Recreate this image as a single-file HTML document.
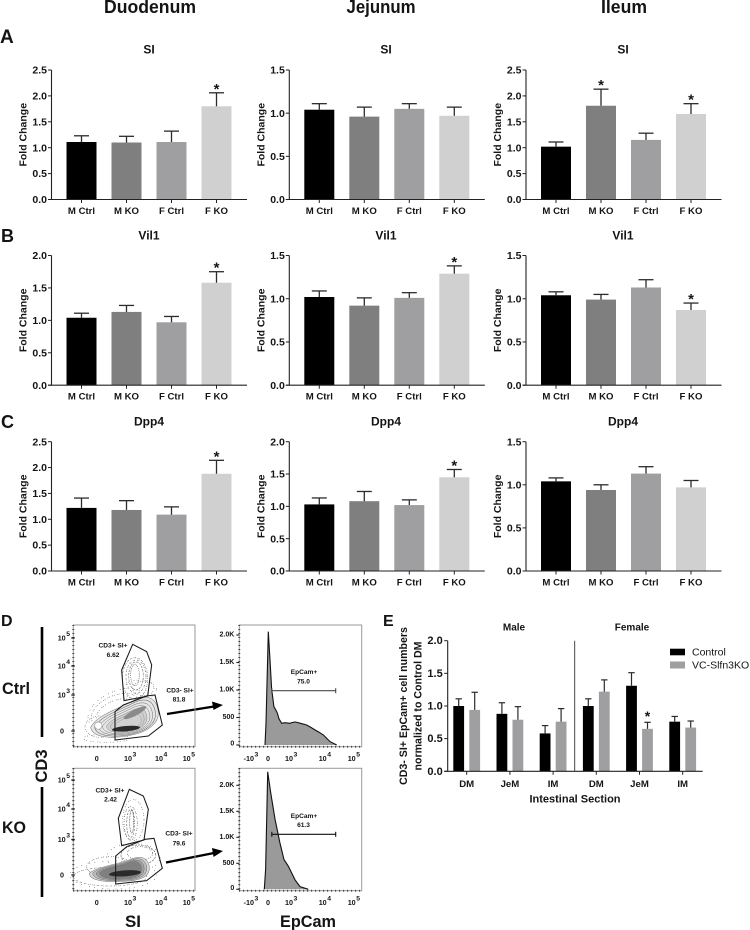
<!DOCTYPE html>
<html lang="en">
<head>
<meta charset="utf-8">
<title>Slfn3 KO intestinal marker expression</title>
<style>
html,body{margin:0;padding:0;background:#fff;}
svg{display:block;filter:blur(0.35px);}
text{font-family:"Liberation Sans",sans-serif;fill:#141414;}
.b{font-weight:bold;}
</style>
</head>
<body>
<svg id="fig" xmlns="http://www.w3.org/2000/svg" width="750" height="930" viewBox="0 0 750 930">
<rect width="750" height="930" fill="#fff"/>
<defs>
  <path id="ctrlBlob" d="M272,352 C290,318 340,302 400,272 C440,252 468,262 474,300 C482,340 440,366 400,374 C350,386 278,388 272,352Z"/>
  <path id="koBlob" d="M268,310 C290,290 350,285 400,265 C430,255 448,270 448,295 C448,325 410,332 370,334 C320,338 268,332 268,310Z"/>
</defs>

<text class="b" x="150" y="13" font-size="18" text-anchor="middle" textLength="92" lengthAdjust="spacingAndGlyphs">Duodenum</text>
<text class="b" x="381" y="13" font-size="18" text-anchor="middle" textLength="69" lengthAdjust="spacingAndGlyphs">Jejunum</text>
<text class="b" x="624" y="13" font-size="18" text-anchor="middle" textLength="46" lengthAdjust="spacingAndGlyphs">Ileum</text>

<text class="b" x="0" y="43" font-size="19">A</text>
<text class="b" x="1" y="242" font-size="18">B</text>
<text class="b" x="1" y="428" font-size="18">C</text>
<text class="b" x="1" y="626" font-size="16">D</text>
<text class="b" x="383" y="626" font-size="16">E</text>

<g>
  <text class="b" x="2" y="694" font-size="17" textLength="28" lengthAdjust="spacingAndGlyphs">Ctrl</text>
  <text class="b" x="2" y="833" font-size="17" textLength="24" lengthAdjust="spacingAndGlyphs">KO</text>
  <text class="b" transform="translate(47,766) rotate(-90)" font-size="17" text-anchor="middle" textLength="33" lengthAdjust="spacingAndGlyphs">CD3</text>
  <line x1="42" x2="42" y1="627" y2="737" stroke="#000" stroke-width="2.6"/>
  <line x1="42" x2="42" y1="787" y2="897" stroke="#000" stroke-width="2.6"/>
</g>

<!-- Ctrl contour plot -->
<g transform="translate(0,610) scale(.33333)">
  <g fill="none" stroke="#777" stroke-width="2.4" stroke-linecap="round">
    <ellipse cx="345" cy="305" rx="60" ry="32" stroke-dasharray="0.5 7 0.5 11 0.5 5" transform="rotate(-25 345 305)"/>
    <ellipse cx="350" cy="295" rx="92" ry="50" stroke-dasharray="0.5 13 0.5 6 0.5 17" transform="rotate(-25 350 295)"/>
    <ellipse cx="345" cy="300" rx="76" ry="42" stroke-dasharray="0.5 9 0.5 5" transform="rotate(-25 345 300)"/>
    <ellipse cx="430" cy="235" rx="32" ry="22" stroke-dasharray="0.5 10 0.5 6"/>
    <ellipse cx="420" cy="240" rx="50" ry="30" stroke-dasharray="0.5 16 0.5 9"/>
    <ellipse cx="405" cy="205" rx="38" ry="62" stroke-dasharray="0.5 7 0.5 4" stroke="#666"/>
    <ellipse cx="408" cy="200" rx="30" ry="50" stroke-dasharray="0.5 4 0.5 8" stroke="#5c5c5c"/>
    <ellipse cx="408" cy="198" rx="22" ry="42" stroke-dasharray="0.5 6 0.5 3" stroke="#5c5c5c"/>
    <ellipse cx="405" cy="195" rx="13" ry="32" stroke-dasharray="0.5 5" stroke="#5c5c5c"/>
    <ellipse cx="320" cy="385" rx="70" ry="12" stroke-dasharray="0.5 12 0.5 7"/>
    <ellipse cx="300" cy="350" rx="45" ry="32" stroke-dasharray="0.5 8 0.5 5"/>
  </g>
  <use href="#ctrlBlob" fill="#e6e6e6" stroke="#777" stroke-width="1.6"/>
  <g fill="none" stroke="#5f5f5f" stroke-width="1.7">
    <use href="#ctrlBlob" transform="translate(390 345) scale(.9) translate(-390 -345)"/>
    <use href="#ctrlBlob" transform="translate(390 345) scale(.8) translate(-390 -345)"/>
    <use href="#ctrlBlob" transform="translate(390 345) scale(.7) translate(-390 -345)"/>
    <use href="#ctrlBlob" transform="translate(390 345) scale(.6) translate(-390 -345)" fill="#d0d0d0"/>
    <use href="#ctrlBlob" transform="translate(390 345) scale(.5) translate(-390 -345)"/>
    <use href="#ctrlBlob" transform="translate(390 345) scale(.4) translate(-390 -345)"/>
  </g>
  <ellipse cx="405" cy="308" rx="38" ry="9" fill="#8a8a8a" transform="rotate(-28 405 308)"/>
  <ellipse cx="378" cy="356" rx="42" ry="8" fill="#2a2a2a" transform="rotate(-5 378 356)"/>
  <circle cx="295" cy="347" r="11" fill="#fff" stroke="#999" stroke-width="2"/>
  <polygon points="398,103 440,125 455,165 443,258 372,272 365,180" fill="none" stroke="#1a1a1a" stroke-width="3.2"/>
  <polygon points="345,305 370,285 440,258 465,255 487,345 445,378 345,390" fill="none" stroke="#1a1a1a" stroke-width="3.2"/>
</g>

<!-- KO contour plot -->
<g transform="translate(0,770) scale(.33333)">
  <g fill="none" stroke="#6e6e6e" stroke-width="2.4" stroke-linecap="round">
    <ellipse cx="400" cy="150" rx="32" ry="62" stroke-dasharray="0.5 11 0.5 6"/>
    <ellipse cx="392" cy="160" rx="20" ry="50" stroke-dasharray="0.5 5 0.5 9" stroke="#4c4c4c"/>
    <ellipse cx="392" cy="160" rx="12" ry="42" stroke-dasharray="0.5 7 0.5 3" stroke="#4c4c4c"/>
    <ellipse cx="395" cy="155" rx="6" ry="34" stroke-dasharray="0.5 4" stroke="#4c4c4c"/>
    <ellipse cx="415" cy="255" rx="52" ry="30" stroke-dasharray="0.5 6 0.5 3" stroke="#4c4c4c"/>
    <ellipse cx="420" cy="250" rx="38" ry="20" stroke-dasharray="0.5 5 0.5 8" stroke="#4c4c4c"/>
    <ellipse cx="400" cy="262" rx="80" ry="42" stroke-dasharray="0.5 10 0.5 17"/>
    <ellipse cx="330" cy="290" rx="70" ry="30" stroke-dasharray="0.5 9 0.5 5"/>
    <ellipse cx="330" cy="320" rx="110" ry="28" stroke-dasharray="0.5 8 0.5 4"/>
    <ellipse cx="340" cy="315" rx="130" ry="42" stroke-dasharray="0.5 15 0.5 24"/>
  </g>
  <use href="#koBlob" fill="#d8d8d8" stroke="#777" stroke-width="1.6"/>
  <g fill="none" stroke="#606060" stroke-width="1.6">
    <use href="#koBlob" transform="translate(370 305) scale(.9) translate(-370 -305)" fill="#bcbcbc"/>
    <use href="#koBlob" transform="translate(370 305) scale(.8) translate(-370 -305)" fill="#a0a0a0"/>
    <use href="#koBlob" transform="translate(370 305) scale(.7) translate(-370 -305)" fill="#808080"/>
  </g>
  <ellipse cx="375" cy="310" rx="48" ry="9" fill="#2b2b2b" transform="rotate(-4 375 310)"/>
  <polygon points="388,58 430,78 445,118 432,210 365,227 355,145" fill="none" stroke="#1a1a1a" stroke-width="3.2"/>
  <polygon points="347,258 380,230 435,208 462,205 487,295 440,332 347,342" fill="none" stroke="#1a1a1a" stroke-width="3.2"/>
</g>

<g font-size="6.6" text-anchor="middle" font-weight="bold">
  <text x="113" y="647.5">CD3+ SI+</text>
  <text x="113" y="657">6.62</text>
  <text x="180" y="692.5">CD3- SI+</text>
  <text x="179" y="701.5">81.8</text>
  <text x="110" y="792.5">CD3+ SI+</text>
  <text x="110.5" y="801.5">2.42</text>
  <text x="179" y="835.5">CD3- SI+</text>
  <text x="179" y="845.5">79.6</text>
  <text x="304" y="674">EpCam+</text>
  <text x="303.5" y="683.5">75.0</text>
  <text x="304" y="818">EpCam+</text>
  <text x="303.5" y="827">61.3</text>
</g>

<g>
  <line x1="167" y1="714" x2="214" y2="706.5" stroke="#000" stroke-width="2.4"/>
  <polygon points="223,705 212,701.5 213.5,710" fill="#000"/>
  <line x1="166" y1="862.5" x2="214" y2="853" stroke="#000" stroke-width="2.4"/>
  <polygon points="223,851 212,848 213.5,857" fill="#000"/>
</g>

<text class="b" x="133" y="927" font-size="17" text-anchor="middle" textLength="16" lengthAdjust="spacingAndGlyphs">SI</text>
<text class="b" x="308" y="927" font-size="17" text-anchor="middle" textLength="56" lengthAdjust="spacingAndGlyphs">EpCam</text>

<script>
// ---------- Bar chart data (panels A–C) ----------
const categories = ['M Ctrl', 'M KO', 'F Ctrl', 'F KO'];
const ticks15 = ['0.0', '0.5', '1.0', '1.5'];
const ticks20 = ['0.0', '0.5', '1.0', '1.5', '2.0'];
const ticks25 = ['0.0', '0.5', '1.0', '1.5', '2.0', '2.5'];

const siDuodenumMeans = [1.11, 1.10, 1.11, 1.80];
const siDuodenumUpper = [1.23, 1.22, 1.32, 2.06];
const siDuodenumSig = [0, 0, 0, 1];
const siJejunumMeans = [1.04, 0.96, 1.05, 0.97];
const siJejunumUpper = [1.11, 1.07, 1.11, 1.07];
const siJejunumSig = [0, 0, 0, 0];
const siIleumMeans = [1.02, 1.81, 1.15, 1.65];
const siIleumUpper = [1.11, 2.13, 1.28, 1.85];
const siIleumSig = [0, 1, 0, 1];

const vil1DuodenumMeans = [1.04, 1.13, 0.97, 1.58];
const vil1DuodenumUpper = [1.11, 1.23, 1.06, 1.75];
const vil1DuodenumSig = [0, 0, 0, 1];
const vil1JejunumMeans = [1.02, 0.92, 1.01, 1.29];
const vil1JejunumUpper = [1.09, 1.01, 1.07, 1.38];
const vil1JejunumSig = [0, 0, 0, 1];
const vil1IleumMeans = [1.04, 0.99, 1.13, 0.87];
const vil1IleumUpper = [1.08, 1.05, 1.22, 0.95];
const vil1IleumSig = [0, 0, 0, 1];

const dpp4DuodenumMeans = [1.22, 1.18, 1.09, 1.88];
const dpp4DuodenumUpper = [1.41, 1.36, 1.24, 2.14];
const dpp4DuodenumSig = [0, 0, 0, 1];
const dpp4JejunumMeans = [1.03, 1.08, 1.02, 1.45];
const dpp4JejunumUpper = [1.13, 1.23, 1.10, 1.57];
const dpp4JejunumSig = [0, 0, 0, 1];
const dpp4IleumMeans = [1.04, 0.94, 1.13, 0.97];
const dpp4IleumUpper = [1.08, 1.00, 1.21, 1.05];
const dpp4IleumSig = [0, 0, 0, 0];

// ---------- Panel E data ----------
const sectionCategories = ['DM', 'JeM', 'IM', 'DM', 'JeM', 'IM'];
const controlMeans = [1.00, 0.88, 0.58, 1.00, 1.31, 0.76];
const controlUpper = [1.11, 1.05, 0.70, 1.11, 1.51, 0.84];
const koMeans = [0.94, 0.79, 0.76, 1.22, 0.65, 0.67];
const koUpper = [1.21, 0.99, 0.96, 1.40, 0.75, 0.77];
const koSig = [0, 0, 0, 0, 1, 0];

// ---------- Histogram data (panel D), channel 0–1000 vs event count ----------
const histYTicks = ['0', '500', '1.0K', '1.5K', '2.0K'];
const histYTickValues = [0, 500, 1000, 1500, 2000];
const ctrlHistChannels = [210, 218, 237, 251, 264, 283, 297, 311, 325, 346, 373, 410, 455, 500, 550, 585, 619, 650, 687, 741, 796];
const ctrlHistCounts = [0, 394, 2060, 1545, 1030, 697, 640, 576, 470, 394, 406, 395, 420, 395, 364, 320, 273, 235, 182, 61, 0];
const koHistChannels = [204, 215, 232, 256, 292, 332, 365, 401, 455, 496, 564];
const koHistCounts = [0, 377, 2260, 1870, 1350, 896, 571, 442, 182, 52, 0];

// ---------- Style / layout (not data) ----------
const barFills = ['#000000', '#7f7f7f', '#9f9fa1', '#d0d0d0'];
const columnAxisX = [51.5, 289.3, 526];
const rowZeroY = [199.5, 385.2, 571];
const rowTopY = [70, 255.5, 441.7];
const rowTitleY = [53.5, 239.5, 425.5];
const columnTitleX = [149, 386, 623];

const panels = [
  { id: 'si-duodenum', title: 'SI', col: 0, row: 0, ticks: ticks25, means: siDuodenumMeans, upper: siDuodenumUpper, sig: siDuodenumSig },
  { id: 'si-jejunum', title: 'SI', col: 1, row: 0, ticks: ticks15, means: siJejunumMeans, upper: siJejunumUpper, sig: siJejunumSig },
  { id: 'si-ileum', title: 'SI', col: 2, row: 0, ticks: ticks25, means: siIleumMeans, upper: siIleumUpper, sig: siIleumSig },
  { id: 'vil1-duodenum', title: 'Vil1', col: 0, row: 1, ticks: ticks20, means: vil1DuodenumMeans, upper: vil1DuodenumUpper, sig: vil1DuodenumSig },
  { id: 'vil1-jejunum', title: 'Vil1', col: 1, row: 1, ticks: ticks15, means: vil1JejunumMeans, upper: vil1JejunumUpper, sig: vil1JejunumSig },
  { id: 'vil1-ileum', title: 'Vil1', col: 2, row: 1, ticks: ticks15, means: vil1IleumMeans, upper: vil1IleumUpper, sig: vil1IleumSig },
  { id: 'dpp4-duodenum', title: 'Dpp4', col: 0, row: 2, ticks: ticks25, means: dpp4DuodenumMeans, upper: dpp4DuodenumUpper, sig: dpp4DuodenumSig },
  { id: 'dpp4-jejunum', title: 'Dpp4', col: 1, row: 2, ticks: ticks20, means: dpp4JejunumMeans, upper: dpp4JejunumUpper, sig: dpp4JejunumSig },
  { id: 'dpp4-ileum', title: 'Dpp4', col: 2, row: 2, ticks: ticks15, means: dpp4IleumMeans, upper: dpp4IleumUpper, sig: dpp4IleumSig }
];

const svg = document.getElementById('fig');
const NS = 'http://www.w3.org/2000/svg';
function mk(tag, attrs, parent, txt) {
  const n = document.createElementNS(NS, tag);
  for (const k in attrs) n.setAttribute(k, attrs[k]);
  if (txt !== undefined) n.textContent = txt;
  parent.appendChild(n);
  return n;
}
const labelAttrs = (x, y, size, anchor) => ({ x: x, y: y, 'font-size': size, 'font-weight': 'bold', 'text-anchor': anchor, 'dominant-baseline': 'central' });

// ---------- Panels A–C ----------
panels.forEach(function (p) {
  const axisX = columnAxisX[p.col];
  const y0 = rowZeroY[p.row];
  const yTop = rowTopY[p.row];
  const yMax = parseFloat(p.ticks[p.ticks.length - 1]);
  const yScale = function (v) { return y0 - (v / yMax) * (y0 - yTop); };
  const xBand = function (i) { return axisX + 30 + 45 * i; };

  const g = mk('g', {}, svg);
  
  

  const title = mk('text', { x: columnTitleX[p.col], y: rowTitleY[p.row], 'font-size': 12, 'font-weight': 'bold', 'text-anchor': 'middle' }, g, p.title);
  
  

  p.means.forEach(function (v, i) {
    const cx = xBand(i);
    const bar = mk('rect', { x: cx - 15, y: yScale(v), width: 30, height: y0 - yScale(v), fill: barFills[i] }, g);
    
    

    const stem = mk('line', { x1: cx, x2: cx, y1: yScale(v), y2: yScale(p.upper[i]), stroke: '#2b2b2b', 'stroke-width': 1.3 }, g);
    
    

    const cap = mk('line', { x1: cx - 7.5, x2: cx + 7.5, y1: yScale(p.upper[i]), y2: yScale(p.upper[i]), stroke: '#2b2b2b', 'stroke-width': 1.3 }, g);
    
    

    if (p.sig[i]) {
      const star = mk('text', { x: cx, y: yScale(p.upper[i]) + 1, 'font-size': 15, 'font-weight': 'bold', 'text-anchor': 'middle' }, g, '*');
      
      
    }

    const tick = mk('line', { x1: cx, x2: cx, y1: y0, y2: y0 + 3.5, stroke: '#222', 'stroke-width': 1 }, g);
    
    

    const lab = mk('text', labelAttrs(cx, y0 + 12, 9.6, 'middle'), g, categories[i]);
    
    
  });

  const yAxis = mk('line', { x1: axisX, x2: axisX, y1: yTop, y2: y0, stroke: '#222', 'stroke-width': 1.1 }, g);
  
  
  const xAxis = mk('line', { x1: axisX - 3.5, x2: axisX + 195.5, y1: y0, y2: y0, stroke: '#222', 'stroke-width': 1.1 }, g);
  
  

  p.ticks.forEach(function (t) {
    const yy = yScale(parseFloat(t));
    const tk = mk('line', { x1: axisX - 3.5, x2: axisX, y1: yy, y2: yy, stroke: '#222', 'stroke-width': 1 }, g);
    
    
    const tl = mk('text', labelAttrs(axisX - 4.5, yy + 0.6, 10.5, 'end'), g, t);
    
    
  });

  const yTitle = mk('text', { transform: 'translate(' + (axisX - 25) + ',' + ((y0 + yTop) / 2) + ') rotate(-90)', 'font-size': 10.5, 'font-weight': 'bold', 'text-anchor': 'middle' }, g, 'Fold Change');
  
  
});

// ---------- Panel E ----------
(function () {
  const axisX = 447.7, y0 = 771.3, yTop = 640.7, yMax = 2;
  const eTicks = ['0.0', '0.5', '1.0', '1.5', '2.0'];
  const yScale = function (v) { return y0 - (v / yMax) * (y0 - yTop); };
  const xGroup = function (i) { return 466.7 + 43.2 * i; };
  const g = mk('g', {}, svg);
  
  

  function series(means, upper, dx, fill, nm) {
    means.forEach(function (v, i) {
      const cx = xGroup(i) + dx;
      const bar = mk('rect', { x: cx - 5.4, y: yScale(v), width: 10.8, height: y0 - yScale(v), fill: fill }, g);
      
      
      const stem = mk('line', { x1: cx, x2: cx, y1: yScale(v), y2: yScale(upper[i]), stroke: '#2b2b2b', 'stroke-width': 1.2 }, g);
      
      
      const cap = mk('line', { x1: cx - 3.2, x2: cx + 3.2, y1: yScale(upper[i]), y2: yScale(upper[i]), stroke: '#2b2b2b', 'stroke-width': 1.2 }, g);
      
      
    });
  }
  series(controlMeans, controlUpper, -8, '#000', 'control');
  series(koMeans, koUpper, 8, '#9f9fa1', 'vc-slfn3ko');

  koSig.forEach(function (s, i) {
    if (!s) return;
    const star = mk('text', { x: xGroup(i) + 8, y: yScale(koUpper[i]) - 1.5, 'font-size': 14, 'font-weight': 'bold', 'text-anchor': 'middle' }, g, '*');
    
    
  });

  sectionCategories.forEach(function (c, i) {
    const cx = xGroup(i);
    const tick = mk('line', { x1: cx, x2: cx, y1: y0, y2: y0 + 3.5, stroke: '#222', 'stroke-width': 1 }, g);
    
    
    const lab = mk('text', labelAttrs(cx, y0 + 13, 9.6, 'middle'), g, c);
    
    
  });

  const yAxis = mk('line', { x1: axisX, x2: axisX, y1: yTop, y2: y0, stroke: '#222', 'stroke-width': 1.1 }, g);
  
  
  const xAxis = mk('line', { x1: axisX - 3.5, x2: 702.7, y1: y0, y2: y0, stroke: '#222', 'stroke-width': 1.1 }, g);
  
  
  const sep = mk('line', { x1: 574.7, x2: 574.7, y1: yTop, y2: y0, stroke: '#333', 'stroke-width': 0.9 }, g);
  
  

  eTicks.forEach(function (t) {
    const yy = yScale(parseFloat(t));
    const tk = mk('line', { x1: axisX - 3.5, x2: axisX, y1: yy, y2: yy, stroke: '#222', 'stroke-width': 1 }, g);
    
    
    const tl = mk('text', labelAttrs(axisX - 5, yy + 0.5, 11, 'end'), g, t);
    
    
  });

  const male = mk('text', labelAttrs(514, 628, 10, 'middle'), g, 'Male');
  
  
  const female = mk('text', labelAttrs(632, 628, 10, 'middle'), g, 'Female');
  
  

  const xTitle = mk('text', labelAttrs(575, 799.5, 11, 'middle'), g, 'Intestinal Section');
  
  
  const yTitle1 = mk('text', { transform: 'translate(407,706) rotate(-90)', 'font-size': 10.6, 'font-weight': 'bold', 'text-anchor': 'middle' }, g, 'CD3- SI+ EpCam+ cell numbers');
  
  
  const yTitle2 = mk('text', { transform: 'translate(421.5,706) rotate(-90)', 'font-size': 10.6, 'font-weight': 'bold', 'text-anchor': 'middle' }, g, 'normalized to Control DM');
  
  

  const sw1 = mk('rect', { x: 670, y: 648.7, width: 15, height: 6.6, fill: '#000' }, g);
  
  
  const lt1 = mk('text', { x: 692, y: 655.7, 'font-size': 10.5 }, g, 'Control');
  
  
  const sw2 = mk('rect', { x: 670, y: 661.5, width: 15, height: 7, fill: '#9f9fa1' }, g);
  
  
  const lt2 = mk('text', { x: 692, y: 668.7, 'font-size': 10.5 }, g, 'VC-Slfn3KO');
  
  
})();

// ---------- Flow axes shared by contour plots and histograms ----------
function flowFrame(g, left, right, top, bottom) {
  const f = mk('rect', { x: left, y: top, width: right - left, height: bottom - top, fill: 'none', stroke: '#9a9a9a', 'stroke-width': 1 }, g);
  
  
  const bx = mk('line', { x1: left, x2: right, y1: bottom, y2: bottom, stroke: '#222', 'stroke-width': 2, 'stroke-dasharray': '0.8 3.2' }, g);
  
  
  const ly = mk('line', { x1: left, x2: left, y1: top, y2: bottom, stroke: '#222', 'stroke-width': 2, 'stroke-dasharray': '0.8 3.2' }, g);
  
  
}
function powerLabel(g, x, y, base, exp) {
  const t = mk('text', labelAttrs(x, y, 7.2, 'end'), g, base);
  
  
  if (exp) {
    const s = mk('text', labelAttrs(x + 0.5, y - 3.5, 6.8, 'start'), g, exp);
    
    
  }
}

// Contour plot axes
const contourXTickLabels = [['0', ''], ['10', '3'], ['10', '4'], ['10', '5']];
const contourYTickLabels = [['0', ''], ['10', '3'], ['10', '4'], ['10', '5']];
['ctrl', 'ko'].forEach(function (rowName, idx) {
  const left = 73.3, right = 195;
  const top = idx ? 768.3 : 625;
  const bottom = idx ? 890.7 : 746.7;
  const g = mk('g', {}, svg);
  
  
  flowFrame(g, left, right, top, bottom);
  const xs = [98.7, 132, 163, 190.7];
  const ys = idx ? [875, 839.5, 809, 780] : [731, 695, 666, 638];
  contourXTickLabels.forEach(function (l, i) {
    powerLabel(g, xs[i], bottom + 11.7, l[0], l[1]);
  });
  contourYTickLabels.forEach(function (l, i) {
    powerLabel(g, l[1] ? 65.7 : 64, ys[i], l[0], l[1]);
    const tk = mk('line', { x1: left - 2, x2: left + 1.5, y1: ys[i], y2: ys[i], stroke: '#222', 'stroke-width': 1.3 }, g);
    
    
  });
});

// Histograms
const histXTickLabels = [['-10', '3'], ['0', ''], ['10', '3'], ['10', '4'], ['10', '5']];
function histogram(id, channels, counts, top, bottom, zeroY, pxPerThousand, bar, barColor) {
  const left = 239.3, right = 361.7;
  const xScale = function (c) { return left + (c / 1000) * (right - left); };
  const yScale = function (v) { return zeroY - (v / 1000) * pxPerThousand; };
  const g = mk('g', {}, svg);
  
  
  flowFrame(g, left, right, top, bottom);
  const d = channels.map(function (c, i) { return (i ? 'L' : 'M') + xScale(c).toFixed(1) + ',' + yScale(counts[i]).toFixed(1); }).join(' ');
  const area = mk('path', { d: d + ' Z', fill: '#9a9a9a', stroke: 'none' }, g);
  
  
  const line = mk('path', { d: d, fill: 'none', stroke: '#111', 'stroke-width': 1.1 }, g);
  
  
  histYTickValues.forEach(function (v, i) {
    const yy = yScale(v);
    const tk = mk('line', { x1: left - 3, x2: left, y1: yy, y2: yy, stroke: '#222', 'stroke-width': 1.1 }, g);
    
    
    const tl = mk('text', labelAttrs(left - 5, yy - (v === 0 ? 1 : 0), 7, 'end'), g, histYTicks[i]);
    
    
  });
  const xs = [254, 270, 293, 326.7, 355.7];
  histXTickLabels.forEach(function (l, i) {
    powerLabel(g, xs[i], bottom + 11.7, l[0], l[1]);
  });
  const gl = mk('line', { x1: 271.8, x2: 335.7, y1: bar, y2: bar, stroke: barColor, 'stroke-width': 1.2 }, g);
  
  
  [271.8, 335.7].forEach(function (x) {
    const e = mk('line', { x1: x, x2: x, y1: bar - 2.5, y2: bar + 2.5, stroke: barColor, 'stroke-width': 1.1 }, g);
    
    
  });
}
histogram('ctrl', ctrlHistChannels, ctrlHistCounts, 625, 746.7, 745, 55, 690.7, '#4a4a4a');
histogram('ko', koHistChannels, koHistCounts, 768.3, 890.7, 889.3, 52, 834.3, '#111');
</script>
</svg>
</body>
</html>
